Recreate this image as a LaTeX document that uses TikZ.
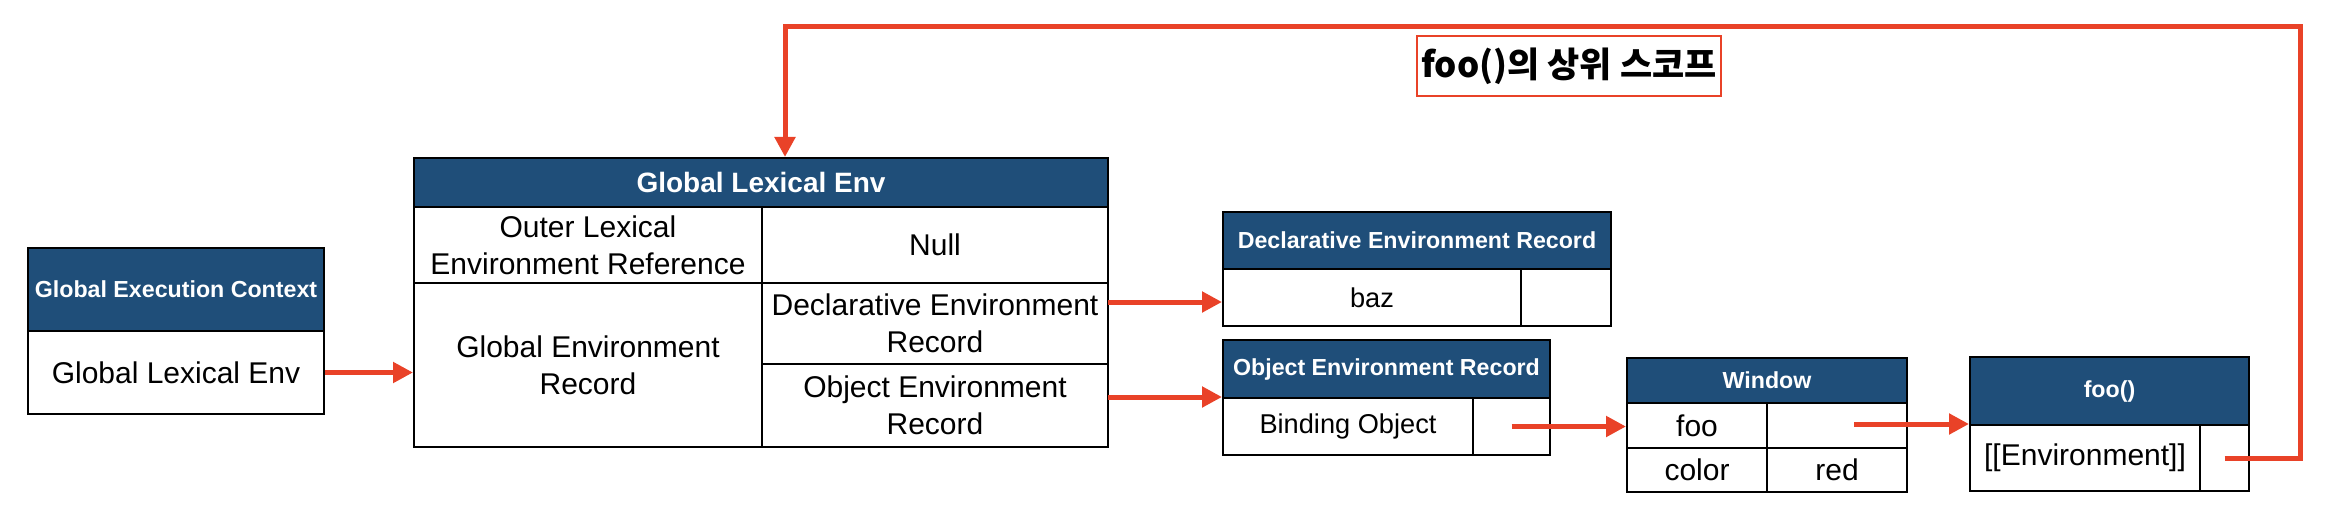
\documentclass[tikz,border=0pt]{standalone}
\usepackage{fontspec}
\setmainfont{Liberation Sans}
\newfontfamily\kr{Noto Sans CJK KR}
\usetikzlibrary{arrows.meta}
\definecolor{hdrblue}{RGB}{31,78,121}
\definecolor{arrred}{RGB}{233,66,40}
\begin{document}
\begin{tikzpicture}[x=0.5pt,y=-0.5pt,
  cell/.style={draw=black,line width=1pt,inner sep=0pt,anchor=north west,align=center,font=\fontsize{15}{18.5}\selectfont},
  hdr/.style={cell,fill=hdrblue,text=white,font=\bfseries\fontsize{11.6}{14}\selectfont},
  small/.style={font=\fontsize{13.6}{16}\selectfont},
  conn/.style={draw=arrred,line width=2.5pt,-{Triangle[length=10pt,width=10pt]}},
  retline/.style={conn,line join=miter}]
\useasboundingbox (0,0) rectangle (2328,508);
% Global Execution Context
\node[hdr, minimum width=148pt, minimum height=41.5pt] (gecH) at (27,247) {Global Execution Context};
\node[cell, minimum width=148pt, minimum height=41.5pt] (gecB) at (27,330) {Global Lexical Env};
% Global Lexical Env
\node[hdr, font=\bfseries\fontsize{14}{17}\selectfont, minimum width=347pt, minimum height=24.5pt] (gleH) at (413,157) {Global Lexical Env};
\node[cell, minimum width=174pt, minimum height=38pt] (gleOK) at (413,206) {Outer Lexical\\Environment Reference};
\node[cell, minimum width=173pt, minimum height=38pt] (gleOV) at (761,206) {Null};
\node[cell, minimum width=174pt, minimum height=82pt] (gleG) at (413,282) {Global Environment\\Record};
\node[cell, minimum width=173pt, minimum height=40.5pt] (gleD) at (761,282) {Declarative Environment\\Record};
\node[cell, minimum width=173pt, minimum height=41.5pt] (gleO) at (761,363) {Object Environment\\Record};
% Declarative Environment Record
\node[hdr, minimum width=194pt, minimum height=28.5pt] (derH) at (1222,211) {Declarative Environment Record};
\node[cell, small, minimum width=149pt, minimum height=28.5pt] (derK) at (1222,268) {baz};
\node[cell, minimum width=45pt, minimum height=28.5pt] (derV) at (1520,268) {};
% Object Environment Record
\node[hdr, minimum width=163.5pt, minimum height=29pt] (oerH) at (1222,339) {Object Environment Record};
\node[cell, small, minimum width=125pt, minimum height=28.5pt] (oerK) at (1222,397) {Binding Object};
\node[cell, minimum width=38.5pt, minimum height=28.5pt] (oerV) at (1472,397) {};
% Window
\node[hdr, minimum width=140pt, minimum height=22.5pt] (winH) at (1626,357) {Window};
\node[cell, minimum width=70pt, minimum height=22.5pt] (winFK) at (1626,402) {foo};
\node[cell, minimum width=70pt, minimum height=22.5pt] (winFV) at (1766,402) {};
\node[cell, minimum width=70pt, minimum height=22pt] (winCK) at (1626,447) {color};
\node[cell, minimum width=70pt, minimum height=22pt] (winCV) at (1766,447) {red};
% foo()
\node[hdr, minimum width=139.5pt, minimum height=34pt] (fooH) at (1969,356) {foo()};
\node[cell, minimum width=115pt, minimum height=33pt] (fooK) at (1969,424) {[[Environment]]};
\node[cell, minimum width=24.5pt, minimum height=33pt] (fooV) at (2199,424) {};
% label
\node[draw=arrred, line width=0.8pt, minimum width=152pt, minimum height=30pt, inner sep=0pt, font=\kr\bfseries\fontsize{17.5}{20}\selectfont] (lbl) at (1569,66) {foo()의 상위 스코프};
% connectors
\coordinate (dstart) at (1108,302);
\coordinate (ostart) at (1108,397);
\coordinate (wstart) at (1854,424);
\coordinate (rt) at (2300,27);
\coordinate (lt) at (785,27);
\draw[conn] (gecB.east) -- (gecB.east -| gleG.west);
\draw[conn] (dstart) -- (dstart -| derK.west);
\draw[conn] (ostart) -- (ostart -| oerK.west);
\draw[conn] (oerV.center) -- (oerV.center -| winFK.west);
\draw[conn] (wstart) -- (wstart -| fooK.west);
\draw[retline] (fooV.center) -| (rt) -- (lt) -- (lt |- gleH.north);
\end{tikzpicture}
\end{document}
